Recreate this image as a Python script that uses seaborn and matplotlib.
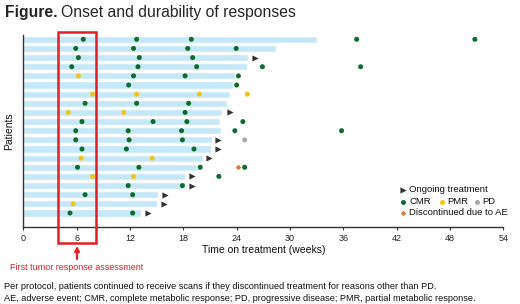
import numpy as np
import pandas as pd
import matplotlib
matplotlib.use("Agg")
import matplotlib.pyplot as plt
import matplotlib.transforms as mtransforms
from matplotlib.patches import Rectangle
import seaborn as sns

# Patients, top to bottom, and time on treatment (weeks)
patients = [f"P{i}" for i in range(1, 21)]
bar_end = [33.0, 28.4, 25.3, 25.2, 23.8, 23.6, 23.2, 22.9, 22.4, 22.1,
           22.2, 21.2, 21.1, 20.2, 19.5, 18.2, 18.2, 15.2, 15.0, 13.2]

# Scan results: patient row (1 = top) and week
cmr_rows = [1, 1, 1, 1, 1, 2, 2, 2, 2, 3, 3, 3, 4, 4, 4, 4, 4, 5, 5, 5,
            6, 6, 8, 8, 8, 9, 10, 10, 10, 10, 11, 11, 11, 11, 11, 12, 12, 12,
            13, 13, 13, 15, 15, 15, 15, 16, 17, 17, 18, 18, 20, 20]
cmr_weeks = [6.75, 12.75, 18.9, 37.5, 50.8, 5.9, 12.4, 18.5, 23.95, 6.2, 13.05, 19.05,
             5.45, 12.9, 19.5, 26.9, 37.95, 12.4, 18.2, 24.2,
             11.85, 24.0, 6.95, 12.75, 18.6, 18.2, 6.6, 14.6, 18.4, 24.7,
             5.9, 11.8, 17.8, 23.8, 35.8, 5.9, 11.9, 17.9,
             6.6, 11.6, 19.2, 6.1, 13.0, 19.9, 24.9, 22.0, 11.8, 17.9,
             6.95, 12.3, 5.25, 12.3]
pmr_rows = [5, 7, 7, 7, 7, 9, 9, 14, 14, 16, 16, 19]
pmr_weeks = [6.2, 7.8, 12.75, 19.8, 25.2, 5.06, 11.3, 6.5, 14.5, 7.8, 12.4, 5.6]
pd_rows = [12]
pd_weeks = [24.9]
ae_rows = [15]
ae_weeks = [24.2]
ongoing_rows = [3, 9, 12, 13, 14, 16, 17, 18, 19, 20]
ongoing_weeks = [26.1, 23.25, 21.95, 21.85, 20.9, 18.95, 18.95, 15.9, 15.8, 14.0]

BAR = "#c4e8f7"
RED = "#e31e24"
colors = {"CMR": "#0e6b2b", "PMR": "#f2c318", "PD": "#a9a9a9",
          "AE": "#e07a3a", "Ongoing": "#333333"}

sns.set_theme(style="white")
plt.rcParams["font.family"] = ["Liberation Sans", "DejaVu Sans"]

fig = plt.figure(figsize=(5.2, 3.04), dpi=100)
ax = fig.add_axes([23.3 / 520, 1 - 227.3 / 304, 480 / 520, 192.3 / 304])

# Bars
df_bars = pd.DataFrame({"patient": patients, "weeks": bar_end})
sns.barplot(data=df_bars, x="weeks", y="patient", orient="h", order=patients,
            color=BAR, saturation=1, width=0.78, ax=ax)

# Scans
scans = pd.concat([
    pd.DataFrame({"row": cmr_rows, "week": cmr_weeks, "kind": "CMR"}),
    pd.DataFrame({"row": pmr_rows, "week": pmr_weeks, "kind": "PMR"}),
    pd.DataFrame({"row": pd_rows, "week": pd_weeks, "kind": "PD"}),
], ignore_index=True)
scans["pos"] = scans["row"] - 1
sns.scatterplot(data=scans, x="week", y="pos", hue="kind", palette=colors,
                s=13, linewidth=0, legend=False, ax=ax, zorder=3)

df_ae = pd.DataFrame({"week": ae_weeks, "pos": np.array(ae_rows) - 1})
sns.scatterplot(data=df_ae, x="week", y="pos", marker="D", color=colors["AE"],
                s=8, linewidth=0, legend=False, ax=ax, zorder=3)

df_on = pd.DataFrame({"week": ongoing_weeks, "pos": np.array(ongoing_rows) - 1})
sns.scatterplot(data=df_on, x="week", y="pos", marker=">", color=colors["Ongoing"],
                s=20, linewidth=0, legend=False, ax=ax, zorder=3)

# Axes styling
ax.set_xlim(0, 54)
ax.set_xticks(range(0, 55, 6))
ax.set_ylim(19 + 14.3 / 9.15, -4.3 / 9.15)
ax.set_yticks([])
for s in ["top", "right"]:
    ax.spines[s].set_visible(False)
for s in ["left", "bottom"]:
    ax.spines[s].set_color("#333333")
    ax.spines[s].set_linewidth(1.0)
ax.tick_params(axis="x", bottom=True, length=2.5, width=0.8, color="#333333",
               labelsize=6.5, pad=2, labelcolor="#222222")
ax.set_xlabel("Time on treatment (weeks)", fontsize=7.5, labelpad=2, color="#111111")
ax.set_ylabel("Patients", fontsize=7.5, color="#111111")
ax.yaxis.set_label_coords(-0.0183, 0.5)

# First tumor response assessment box
trans = mtransforms.blended_transform_factory(ax.transData, ax.transAxes)
ax.add_patch(Rectangle((3.86, -0.083), 8.18 - 3.86, 1.097, transform=trans,
                       fill=False, ec=RED, lw=1.8, clip_on=False, zorder=4))
ax.annotate("", xy=(6.05, -0.097), xytext=(6.05, -0.165), xycoords=trans, textcoords=trans,
            arrowprops=dict(arrowstyle="-|>", color=RED, lw=1.5, mutation_scale=7,
                            shrinkA=0, shrinkB=0))
ax.text(6.05, -0.21, "First tumor response assessment", transform=trans,
        ha="center", va="center", fontsize=6.5, color=RED)

# Legend (hand laid out)
leg_kw = dict(transform=ax.transAxes, clip_on=False, linewidths=0, zorder=5)
txt_kw = dict(transform=ax.transAxes, va="center", ha="left", fontsize=6.8, color="#111111")
ax.scatter([0.792], [0.194], marker=">", s=20, color=colors["Ongoing"], **leg_kw)
ax.text(0.804, 0.194, "Ongoing treatment", **txt_kw)
ax.scatter([0.792], [0.133], s=13, color=colors["CMR"], **leg_kw)
ax.text(0.804, 0.133, "CMR", **txt_kw)
ax.scatter([0.872], [0.133], s=13, color=colors["PMR"], **leg_kw)
ax.text(0.883, 0.133, "PMR", **txt_kw)
ax.scatter([0.946], [0.133], s=13, color=colors["PD"], **leg_kw)
ax.text(0.957, 0.133, "PD", **txt_kw)
ax.scatter([0.792], [0.076], marker="D", s=8, color=colors["AE"], **leg_kw)
ax.text(0.804, 0.076, "Discontinued due to AE", **txt_kw)

# Title
t1 = fig.text(5 / 520, 1 - 12 / 304, "Figure.", fontsize=11.3, fontweight="bold", va="center")
fig.canvas.draw()
bb = t1.get_window_extent(fig.canvas.get_renderer())
fig.text(bb.x1 / fig.bbox.width + 3 / 520, 1 - 12 / 304, "Onset and durability of responses",
         fontsize=11.3, va="center")

# Footnotes
fig.text(4 / 520, 1 - 286.7 / 304,
         "Per protocol, patients continued to receive scans if they discontinued treatment for reasons other than PD.",
         fontsize=6.6, va="center", color="#111111")
fig.text(4 / 520, 1 - 298.3 / 304,
         "AE, adverse event; CMR, complete metabolic response; PD, progressive disease; PMR, partial metabolic response.",
         fontsize=6.6, va="center", color="#111111")

fig.savefig("out.png", dpi=100)
